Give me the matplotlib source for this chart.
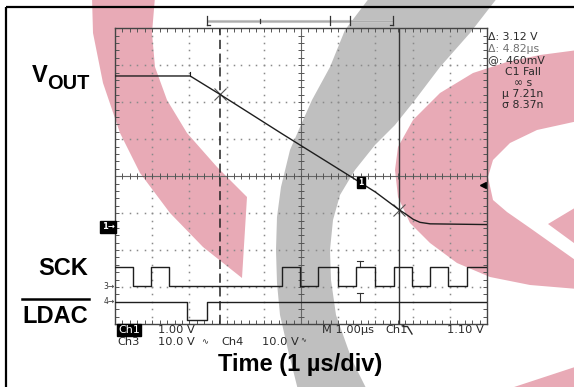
import matplotlib
matplotlib.use("Agg")
import matplotlib.pyplot as plt
from matplotlib.patches import Polygon, Rectangle
import numpy as np

W, H = 574, 387

# ---------------- data (screen divisions: x 0..10 = 0..10 us, y -4..4) -------------
vout_t = [0, 2.02, 2.81, 4.5, 6.0, 7.0, 7.64, 7.85, 8.02, 8.2, 8.47, 10]
vout_v = [2.71, 2.71, 2.22, 1.14, 0.20, -0.43, -0.91, -1.05, -1.17, -1.25, -1.29, -1.31]

sck_edges = [0.49, 0.97, 1.46, 4.48, 4.98, 5.47, 5.99, 6.48, 7.00, 7.50, 7.98, 8.47, 8.96, 9.47]
sck_levels = [-2.47, -2.97]          # high, low (starts high)

ldac_edges = [1.93, 2.47]
ldac_levels = [-3.41, -3.90]         # high, low (starts high)

cursor_t = [2.81, 7.64]
cursor_v = [2.22, -0.91]

info_lines = ["Δ: 3.12 V", "Δ: 4.82µs", "@: 460mV", "C1 Fall", "∞ s", "µ 7.21n", "σ 8.37n"]

# ---------------- figure ----------------
fig = plt.figure(figsize=(W / 100, H / 100), dpi=100)
fig.patch.set_facecolor("white")

# background axes in pixel coordinates (watermark, frame, labels)
bg = fig.add_axes([0, 0, 1, 1])
bg.set_xlim(0, W)
bg.set_ylim(H, 0)
bg.axis("off")
bg.set_zorder(0)

pink = "#e8aab6"
grey = "#bfbfbf"
pink_left = [(92, -3), (93, 33), (103, 83), (120, 133), (140, 173), (170, 213), (203, 247),
             (242, 278), (247, 197), (217, 167), (187, 133), (167, 100), (155, 67), (152, 33), (155, -3)]
grey_band = [(370, -3), (345, 30), (330, 67), (312, 100), (300, 127), (290, 150), (281, 187),
             (277, 217), (276, 250), (277, 283), (280, 315), (288, 350), (298, 390),
             (367, 390), (352, 360), (336, 315), (331, 280), (330, 250), (333, 220), (340, 195),
             (355, 170), (375, 145), (395, 125), (415, 100), (440, 67), (470, 33), (498, -3)]
pink_right = [(578, 50), (540, 55), (507, 62), (473, 73), (440, 93), (413, 120), (398, 147),
              (395, 170), (398, 197), (410, 223), (430, 243), (457, 263), (490, 277), (530, 285),
              (578, 289)]
hole_right = [(578, 121), (537, 130), (510, 143), (493, 160), (488, 177), (493, 200), (507, 212),
              (530, 228), (578, 262), (578, 246), (548, 224), (578, 206)]
pink_corner = [(505, 390), (578, 366), (578, 390)]

bg.add_patch(Polygon(pink_left, closed=True, fc=pink, ec="none", zorder=1))
bg.add_patch(Polygon(pink_right, closed=True, fc=pink, ec="none", zorder=1))
bg.add_patch(Polygon(hole_right, closed=True, fc="white", ec="none", zorder=1.5))
bg.add_patch(Polygon(pink_corner, closed=True, fc=pink, ec="none", zorder=1))
bg.add_patch(Polygon(grey_band, closed=True, fc=grey, ec="none", zorder=2))

# outer frame
bg.add_patch(Rectangle((6, 6.5), 600, 420, fill=False, ec="black", lw=1.6, zorder=5))

# ---------------- scope axes ----------------
x0, x1, y0, y1 = 115, 487, 28.3, 324
ax = fig.add_axes([x0 / W, 1 - y1 / H, (x1 - x0) / W, (y1 - y0) / H])
ax.set_zorder(2)
ax.patch.set_alpha(0)
ax.set_xlim(0, 10)
ax.set_ylim(-4, 4)
for s in ax.spines.values():
    s.set_color("#444444")
    s.set_linewidth(1.0)
ax.set_xticks(np.arange(0, 10.01, 0.2))
ax.set_yticks(np.arange(-4, 4.01, 0.2))
ax.tick_params(direction="in", length=3, width=0.7, color="#555555",
               top=True, right=True, labelbottom=False, labelleft=False)

# dotted graticule
dots = np.arange(0, 10.01, 0.2)
for i in range(1, 10):
    if i == 5:
        continue
    ax.plot(np.full(41, i), np.arange(-4, 4.01, 0.2), ls="none", marker="s", ms=1.1,
            mec="none", mfc="#8a8a8a")
for j in range(-3, 4):
    if j == 0:
        continue
    ax.plot(dots, np.full(len(dots), j), ls="none", marker="s", ms=1.1, mec="none", mfc="#8a8a8a")
# centre cross
ax.axhline(0, color="#666666", lw=0.8)
ax.axvline(5, color="#666666", lw=0.8)
ax.plot(dots, np.zeros(len(dots)), ls="none", marker="|", ms=4, mew=0.7, color="#555555")
ax.plot(np.full(41, 5), np.arange(-4, 4.01, 0.2), ls="none", marker="_", ms=4, mew=0.7, color="#555555")

# cursors
ax.axvline(cursor_t[0], color="#222222", lw=1.1, dashes=(6, 3))
ax.axvline(cursor_t[1], color="#333333", lw=1.0)
ax.plot(cursor_t, cursor_v, ls="none", marker="x", ms=9, mew=0.8, color="#555555", zorder=4)

tc = "#1e1e1e"
# VOUT
ax.plot(vout_t, vout_v, color=tc, lw=1.0, zorder=5)
ax.plot([vout_t[1], vout_t[1]], [vout_v[1], vout_v[1] + 0.12], color=tc, lw=0.8)


def steps(edges, levels):
    xs = [0] + list(edges) + [10]
    ys = [levels[k % 2] for k in range(len(edges) + 1)]
    ys.append(ys[-1])
    return xs, ys


sx, sy = steps(sck_edges, sck_levels)
ax.plot(sx, sy, drawstyle="steps-post", color=tc, lw=1.0, zorder=5)
lx, ly = steps(ldac_edges, ldac_levels)
ax.plot(lx, ly, drawstyle="steps-post", color=tc, lw=1.0, zorder=5)

# channel-1 marker on the trace
ax.text(6.62, -0.18, "1", color="white", fontsize=5.5, fontweight="bold", ha="center", va="center",
        bbox=dict(boxstyle="square,pad=0.15", fc="black", ec="black"), zorder=6)
# trigger level arrow
ax.plot([9.88], [-0.24], ls="none", marker="<", ms=4, color="black", clip_on=False)
# T markers
for ytop, ybot in [(-2.29, -2.47), (-3.16, -3.41)]:
    ax.plot([6.59, 6.59], [ytop, ybot], color="#333333", lw=0.8)
    ax.plot([6.51, 6.67], [ytop, ytop], color="#333333", lw=0.8)

# record bracket above the graticule
ax.plot([2.475, 7.48], [4.20, 4.20], color="#c4c4c4", lw=2.2, clip_on=False, solid_capstyle="butt")
ax.plot([2.475, 7.48], [4.20, 4.20], color="#9a9a9a", lw=0.4, clip_on=False)
for xt, h in [(2.475, 0.12), (3.90, 0.06), (5.78, 0.12), (6.32, 0.12), (7.48, 0.12)]:
    ax.plot([xt, xt], [4.20 - h, 4.20 + h], color="#333333", lw=0.9, clip_on=False)
ax.plot([2.475, 2.56], [4.09, 4.09], color="#333333", lw=0.9, clip_on=False)
ax.plot([7.40, 7.48], [4.09, 4.09], color="#333333", lw=0.9, clip_on=False)


# ---------------- texts (pixel positions) ----------------
def fx(x):
    return x / W


def fy(y):
    return 1 - y / H


tek = "#2a2a2a"
info_y = [37.3, 48.6, 60.5, 72.0, 83.3, 94.4, 105.5]
for k, (line, yy) in enumerate(zip(info_lines, info_y)):
    col = "#707070" if k == 1 else tek
    if k < 3:
        fig.text(fx(488), fy(yy), line, fontsize=7.8, color=col, ha="left", va="center")
    else:
        fig.text(fx(523), fy(yy), line, fontsize=7.8, color=col, ha="center", va="center")

# bottom readout
fig.text(fx(118), fy(330), "Ch1", fontsize=8, color="white", ha="left", va="center",
         bbox=dict(boxstyle="square,pad=0.08", fc="black", ec="black"))
fig.text(fx(158.5), fy(330), "1.00 V", fontsize=8.2, color=tek, ha="left", va="center")
fig.text(fx(117), fy(341.7), "Ch3", fontsize=8.2, color=tek, ha="left", va="center")
fig.text(fx(158.5), fy(341.7), "10.0 V", fontsize=8.2, color=tek, ha="left", va="center")
fig.text(fx(201), fy(341.7), "∿", fontsize=6, color=tek, ha="left", va="center")
fig.text(fx(221.5), fy(341.7), "Ch4", fontsize=8.2, color=tek, ha="left", va="center")
fig.text(fx(262.5), fy(341.7), "10.0 V", fontsize=8.2, color=tek, ha="left", va="center")
fig.text(fx(300.5), fy(339), "∿", fontsize=5, color=tek, ha="left", va="center")
fig.text(fx(321.5), fy(330), "M 1.00µs", fontsize=8.2, color=tek, ha="left", va="center")
fig.text(fx(385), fy(330), "Ch1", fontsize=8.2, color=tek, ha="left", va="center")
bg.plot([403, 407.5, 412], [326.5, 326.5, 334], color=tek, lw=1.0, zorder=6)
fig.text(fx(483.5), fy(330), "1.10 V", fontsize=8.2, color=tek, ha="right", va="center")

# ground markers
fig.text(fx(114.5), fy(226.7), "1→", fontsize=6, color="white", fontweight="bold", ha="right",
         va="center", bbox=dict(boxstyle="square,pad=0.18", fc="black", ec="black"))
fig.text(fx(114.5), fy(286.5), "3→", fontsize=5.5, color="#333333", ha="right", va="center")
fig.text(fx(114.5), fy(301.5), "4→", fontsize=5.5, color="#333333", ha="right", va="center")

# signal labels
lab = dict(family="Liberation Sans", fontweight="bold", color="black")
fig.text(fx(47.5), fy(81.7), "V", fontsize=17, ha="right", va="baseline", **lab)
fig.text(fx(47), fy(89), "OUT", fontsize=14.4, ha="left", va="baseline", **lab)
fig.text(fx(88.5), fy(275), "SCK", fontsize=17, ha="right", va="baseline", **lab)
fig.text(fx(88.5), fy(323.3), "LDAC", fontsize=17, ha="right", va="baseline", **lab)
bg.plot([22, 88.5], [298.5, 298.5], color="black", lw=1.8, zorder=6)
fig.text(fx(300), fy(371), "Time (1 µs/div)", fontsize=17, ha="center", va="baseline", **lab)

fig.savefig("out.png", dpi=100)
